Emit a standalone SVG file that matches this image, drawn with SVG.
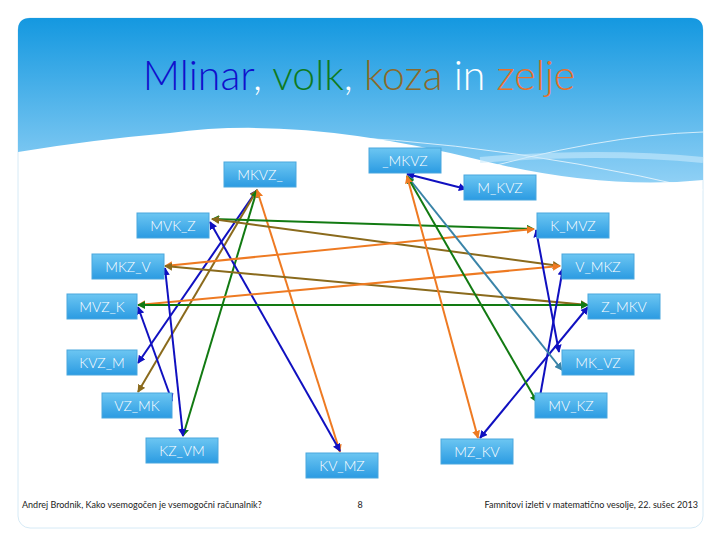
<svg xmlns="http://www.w3.org/2000/svg" width="720" height="540" viewBox="0 0 720 540">
<defs>
<linearGradient id="bg" x1="0" y1="0" x2="0" y2="1"><stop offset="0" stop-color="#1498e0"/><stop offset="1" stop-color="#8fd0f5"/></linearGradient>
<linearGradient id="nb" x1="0" y1="0" x2="0" y2="1"><stop offset="0" stop-color="#6cc6f2"/><stop offset="1" stop-color="#2b9be2"/></linearGradient>
<marker id="a" viewBox="0 0 10 10" refX="9" refY="5" markerWidth="4" markerHeight="4" orient="auto-start-reverse"><path d="M0,0L10,5L0,10z" fill="context-stroke"/></marker>
<style>
.n rect{fill:url(#nb);stroke:#4aa7de;stroke-width:1}
.n text{font-family:Lato,"Open Sans",sans-serif;font-size:14px;font-weight:300;fill:#fff;text-anchor:middle}
#edges line{stroke-width:2;marker-start:url(#a);marker-end:url(#a)}
.b{stroke:#1010c0}.g{stroke:#127a12}.o{stroke:#ee7a22}.br{stroke:#8a6a1c}.t{stroke:#3a84a8}
.f{font-family:Lato,"Open Sans",sans-serif;font-size:9px;fill:#222}
</style>
</defs>
<rect width="720" height="540" fill="#fff"/>
<rect x="18" y="18" width="685" height="510" rx="12" fill="#fff" stroke="#d6eaf6"/>
<path d="M18,30 Q18,18 30,18 L691,18 Q703,18 703,30 L703,180 Q600,190 480,160 Q300,115 170,133 Q90,140 18,152 Z" fill="url(#bg)"/>
<path d="M220,135 Q450,130 703,190" fill="none" stroke="#fff" stroke-opacity="0.7"/>
<path d="M460,175 Q600,135 703,132" fill="none" stroke="#fff" stroke-opacity="0.7"/>
<path d="M480,160 Q600,150 703,160" fill="none" stroke="#c8eafc" stroke-opacity="0.6" stroke-width="6"/>
<text x="359" y="90" text-anchor="middle" font-family="Lato,'Open Sans',sans-serif" font-size="41" font-weight="300"><tspan fill="#1010cc">Mlinar</tspan><tspan fill="#fff">, </tspan><tspan fill="#0e7a1e">volk</tspan><tspan fill="#fff">, </tspan><tspan fill="#8a6a2c">koza</tspan><tspan fill="#fff"> in </tspan><tspan fill="#e8702a">zelje</tspan></text>
<g id="edges">
<line class="b" x1="407" y1="174" x2="466" y2="189"/>
<line class="b" x1="257" y1="190" x2="138" y2="363"/>
<line class="br" x1="257" y1="190" x2="138" y2="392"/>
<line class="g" x1="257" y1="190" x2="183" y2="436"/>
<line class="o" x1="257" y1="190" x2="340" y2="452"/>
<line class="b" x1="210" y1="222" x2="340" y2="451"/>
<line class="g" x1="212" y1="219" x2="534" y2="229"/>
<line class="br" x1="212" y1="219" x2="560" y2="266"/>
<line class="o" x1="534" y1="229" x2="165" y2="266"/>
<line class="br" x1="165" y1="266" x2="588" y2="305"/>
<line class="o" x1="560" y1="266" x2="138" y2="305"/>
<line class="g" x1="138" y1="305" x2="588" y2="305"/>
<line class="b" x1="165" y1="268" x2="183" y2="436"/>
<line class="b" x1="138" y1="307" x2="172" y2="401"/>
<line class="b" x1="536" y1="230" x2="559" y2="352"/>
<line class="b" x1="563" y1="268" x2="539" y2="402"/>
<line class="b" x1="588" y1="307" x2="480" y2="438"/>
<line class="t" x1="407" y1="176" x2="562" y2="370"/>
<line class="g" x1="407" y1="176" x2="537" y2="402"/>
<line class="o" x1="407" y1="176" x2="478" y2="438"/>
</g>
<g id="n1" class="n"><rect x="224" y="162" width="72" height="25"/><text x="260" y="180">MKVZ_</text></g>
<g id="n2" class="n"><rect x="369" y="148" width="72" height="25"/><text x="405" y="166">_MKVZ</text></g>
<g id="n3" class="n"><rect x="464" y="175" width="72" height="25"/><text x="500" y="193">M_KVZ</text></g>
<g id="n4" class="n"><rect x="137" y="213" width="72" height="25"/><text x="173" y="231">MVK_Z</text></g>
<g id="n5" class="n"><rect x="537" y="213" width="72" height="25"/><text x="573" y="231">K_MVZ</text></g>
<g id="n6" class="n"><rect x="92" y="254" width="72" height="25"/><text x="128" y="272">MKZ_V</text></g>
<g id="n7" class="n"><rect x="562" y="254" width="72" height="25"/><text x="598" y="272">V_MKZ</text></g>
<g id="n8" class="n"><rect x="67" y="294" width="70" height="25"/><text x="102" y="312">MVZ_K</text></g>
<g id="n9" class="n"><rect x="588" y="294" width="72" height="25"/><text x="624" y="312">Z_MKV</text></g>
<g id="n10" class="n"><rect x="67" y="350" width="70" height="25"/><text x="102" y="368">KVZ_M</text></g>
<g id="n11" class="n"><rect x="562" y="350" width="72" height="25"/><text x="598" y="368">MK_VZ</text></g>
<g id="n12" class="n"><rect x="102" y="393" width="70" height="25"/><text x="137" y="411">VZ_MK</text></g>
<g id="n13" class="n"><rect x="535" y="393" width="72" height="25"/><text x="571" y="411">MV_KZ</text></g>
<g id="n14" class="n"><rect x="146" y="438" width="72" height="25"/><text x="182" y="456">KZ_VM</text></g>
<g id="n15" class="n"><rect x="306" y="453" width="72" height="25"/><text x="342" y="471">KV_MZ</text></g>
<g id="n16" class="n"><rect x="441" y="439" width="72" height="25"/><text x="477" y="457">MZ_KV</text></g>
<text class="f" x="22" y="508">Andrej Brodnik, Kako vsemogočen je vsemogočni računalnik?</text>
<text class="f" x="360" y="508" text-anchor="middle">8</text>
<text class="f" x="698" y="508" text-anchor="end">Famnitovi izleti v matematično vesolje, 22. sušec 2013</text>
</svg>
